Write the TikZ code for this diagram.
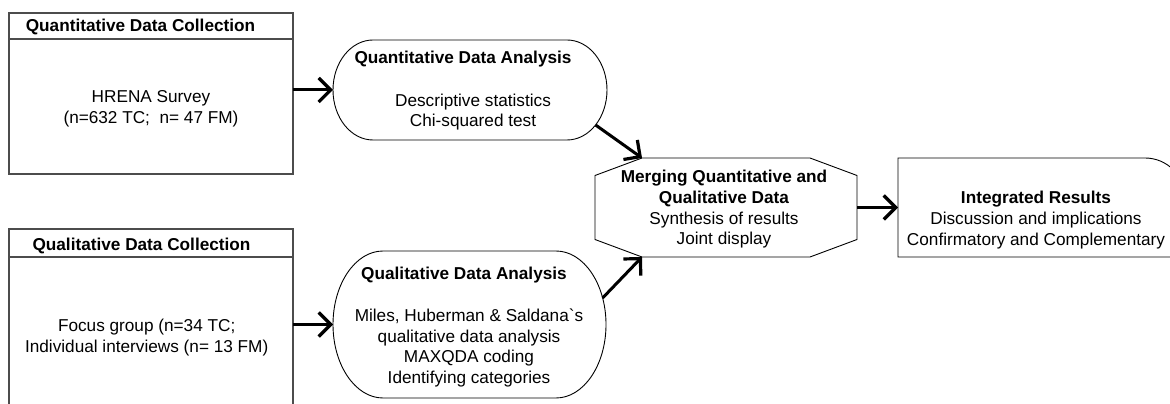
\documentclass[tikz,border=0pt]{standalone}
\usepackage{fontspec}
\newfontfamily\arialf{Liberation Sans}
\usetikzlibrary{arrows.meta,calc}
\begin{document}
\begin{tikzpicture}[x=1pt,y=1pt,
  every node/.style={font=\arialf\fontsize{17.2}{20.7}\selectfont, inner sep=0pt, outer sep=0pt, align=center},
  boldtext/.style={font=\arialf\bfseries\fontsize{17.2}{20.7}\selectfont},
  frame/.style={draw=black!70, line width=1.1pt},
  outline/.style={draw=black, line width=0.9pt},
  arr/.style={line width=3pt, -{Straight Barb[length=12pt, width=24pt, line width=3.2pt]}}]
\useasboundingbox (0,0) rectangle (1170,404);

% quantitative data collection
\node[frame, minimum width=284, minimum height=26] (qnhead) at (151,378) {};
\node[frame, minimum width=284, minimum height=135] (qnbody) at (151,297.5) {};
\node[boldtext] (qnheadtext) at (140.5,377) {Quantitative Data Collection};
\node (qnbodytext) at (151,295.5) {HRENA Survey\\(n=632 TC;\ \ n= 47 FM)};

% qualitative data collection
\node[frame, minimum width=284, minimum height=28] (qlhead) at (151,161) {};
\node[frame, minimum width=284, minimum height=157] (qlbody) at (151,68.5) {};
\node[boldtext] (qlheadtext) at (141.5,158) {Qualitative Data Collection};
\node (qlbodytext) at (146.7,66.5) {Focus group (n=34 TC;\\Individual interviews (n= 13 FM)};

% quantitative data analysis
\node[minimum width=274, minimum height=100] (qnana) at (470,314) {};
\draw[outline] ($(qnana.north west)+(40,0)$) -- ($(qnana.north east)+(-40,0)$)
  arc[start angle=90, end angle=-90, x radius=40, y radius=50]
  -- ($(qnana.south west)+(40,0)$)
  arc[start angle=270, end angle=90, x radius=40, y radius=50] -- cycle;
\node[boldtext] (qnanatitle) at (463,345) {Quantitative Data Analysis};
\node (qnanabody) at (473,292) {Descriptive statistics\\Chi-squared test};
\coordinate (qnana-out) at ($(qnana.center)+(125.6,-35)$);

% qualitative data analysis
\node[minimum width=273, minimum height=147] (qlana) at (469.5,79.5) {};
\draw[outline] ($(qlana.north west)+(50,0)$) -- ($(qlana.north east)+(-50,0)$)
  arc[start angle=90, end angle=-90, x radius=50, y radius=73.5]
  -- ($(qlana.south west)+(50,0)$)
  arc[start angle=270, end angle=90, x radius=50, y radius=73.5] -- cycle;
\node[boldtext] (qlanatitle) at (464,129) {Qualitative Data Analysis};
\node (qlanabody) at (469,56) {Miles, Huberman \& Saldana`s\\qualitative data analysis\\MAXQDA coding\\Identifying categories};
\coordinate (qlana-out) at ($(qlana.center)+(133.1,26.5)$);

% merging
\node[minimum width=262, minimum height=99] (merge) at (726,196.5) {};
\draw[outline] ($(merge.center)+(-84,49.5)$) coordinate (merge-tl)
  -- ($(merge.center)+(84,49.5)$) -- ($(merge.center)+(131,32)$)
  -- ($(merge.center)+(131,-32)$) -- ($(merge.center)+(84,-49.5)$)
  -- ($(merge.center)+(-84,-49.5)$) coordinate (merge-bl)
  -- ($(merge.center)+(-131,-32)$) -- ($(merge.center)+(-131,32)$) -- cycle;
\node (mergetext) at (724,194.5) {\textbf{Merging Quantitative and}\\\textbf{Qualitative Data}\\Synthesis of results\\Joint display};

% integrated results
\node[minimum width=287, minimum height=99] (integ) at (1041.5,196.5) {};
\draw[outline] (integ.south west) -- (integ.north west)
  -- ($(integ.north east)+(-40,0)$) arc[start angle=90, end angle=0, radius=40]
  -- (integ.south east) -- cycle;
\node (integtext) at (1036,184) {\textbf{Integrated Results}\\Discussion and implications\\Confirmatory and Complementary};

% connectors
\draw[arr] (qnbody.east |- qnana.west) -- (qnana.west);
\draw[arr] (qlbody.east |- qlana.west) -- (qlana.west);
\draw[arr] (qnana-out) -- (merge-tl);
\draw[arr] (qlana-out) -- (merge-bl);
\draw[arr] (merge.east) -- (integ.west);
\end{tikzpicture}
\end{document}
